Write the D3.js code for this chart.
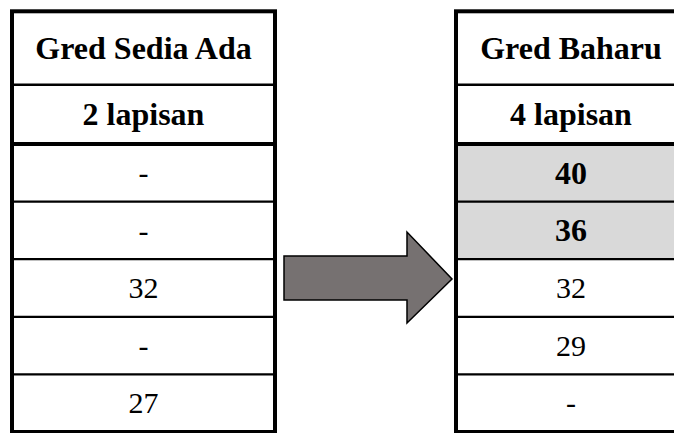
<!DOCTYPE html>
<html>
<head>
<meta charset="utf-8">
<script src="https://cdn.jsdelivr.net/npm/d3@7"></script>
<style>
html,body{margin:0;padding:0;background:#fff;}
svg{display:block;}
</style>
</head>
<body>
<svg id="chart" width="674" height="433"></svg>
<script>
// ---- data ----
const tableTitles = ["Gred Sedia Ada", "Gred Baharu"];
const tableSubtitles = ["2 lapisan", "4 lapisan"];
const existingGrades = ["-", "-", "32", "-", "27"];
const newGrades = ["40", "36", "32", "29", "-"];
const newHighlighted = [true, true, false, false, false];

// ---- layout ----
const svg = d3.select("#chart");
const FONT = '"Liberation Serif"';
const fsHead = 32, fsVal = 30;

const tables = [
  {x0: 12, x1: 275, title: tableTitles[0], sub: tableSubtitles[0], values: existingGrades, hl: existingGrades.map(() => false)},
  {x0: 456, x1: 686, title: tableTitles[1], sub: tableSubtitles[1], values: newGrades, hl: newHighlighted}
];

const yTop = 11.3, yHead = 84.7, ySub = 144, yBottom = 432;
const rowScale = d3.scaleBand().domain(d3.range(existingGrades.length)).range([ySub, yBottom]).padding(0);

tables.forEach(t => {
  const g = svg.append("g");
  g.selectAll("rect.hl").data(t.values.map((v, i) => ({v, i, hl: t.hl[i]})).filter(d => d.hl))
    .enter().append("rect")
    .attr("x", t.x0).attr("width", t.x1 - t.x0)
    .attr("y", d => rowScale(d.i)).attr("height", rowScale.bandwidth())
    .attr("fill", "#d9d9d9");

  g.selectAll("line.row").data(d3.range(1, t.values.length)).enter().append("line")
    .attr("x1", t.x0).attr("x2", t.x1)
    .attr("y1", d => rowScale(d)).attr("y2", d => rowScale(d))
    .attr("stroke", "#000").attr("stroke-width", 2.2);
  g.append("line").attr("x1", t.x0).attr("x2", t.x1).attr("y1", yHead).attr("y2", yHead)
    .attr("stroke", "#000").attr("stroke-width", 2.6);
  g.append("line").attr("x1", t.x0).attr("x2", t.x1).attr("y1", ySub).attr("y2", ySub)
    .attr("stroke", "#000").attr("stroke-width", 4);
  g.append("rect").attr("x", t.x0).attr("y", yTop).attr("width", t.x1 - t.x0).attr("height", yBottom - yTop)
    .attr("fill", "none").attr("stroke", "#000").attr("stroke-width", 4);

  const cx = (t.x0 + t.x1) / 2;
  g.append("text").attr("x", cx).attr("y", (yTop + yHead) / 2).attr("dy", "0.33em")
    .attr("text-anchor", "middle").style("font-family", FONT).style("font-size", fsHead + "px").style("font-weight", "bold")
    .text(t.title);
  g.append("text").attr("x", cx).attr("y", (yHead + ySub) / 2).attr("dy", "0.33em")
    .attr("text-anchor", "middle").style("font-family", FONT).style("font-size", fsHead + "px").style("font-weight", "bold")
    .text(t.sub);
  g.selectAll("text.val").data(t.values.map((v, i) => ({v, i, hl: t.hl[i]}))).enter().append("text")
    .attr("x", cx).attr("y", d => rowScale(d.i) + rowScale.bandwidth() / 2).attr("dy", "0.34em")
    .attr("text-anchor", "middle").style("font-family", FONT)
    .style("font-size", d => (d.hl ? fsHead : fsVal) + "px")
    .style("font-weight", d => d.hl ? "bold" : "normal")
    .text(d => d.v);
});

// arrow between tables
const ac = 278;
const arrowPts = [
  [284, ac - 22], [407, ac - 22], [407, ac - 46], [452, ac + 1], [407, ac + 45],
  [407, ac + 22], [284, ac + 22]
];
svg.append("path").attr("d", d3.line()(arrowPts) + "Z")
  .attr("fill", "#767171").attr("stroke", "#000").attr("stroke-width", 1.5).attr("stroke-linejoin", "miter");
</script>
</body>
</html>
